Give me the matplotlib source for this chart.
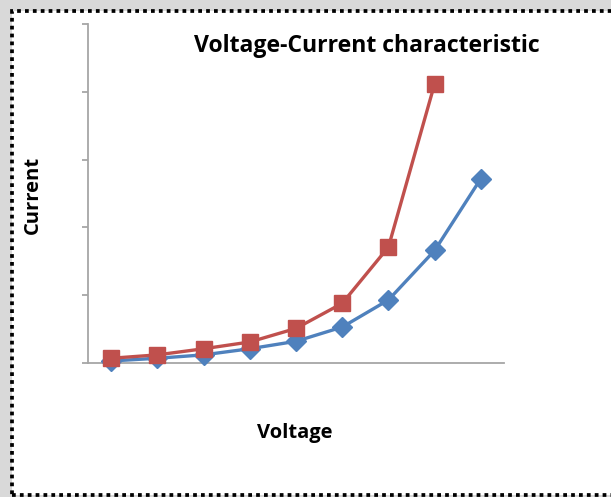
import numpy as np
import matplotlib.pyplot as plt
from matplotlib.patches import Rectangle

# Data (y in axis units, 0..5)
points = [1, 2, 3, 4, 5, 6, 7, 8, 9]
blue_current = [0.03, 0.07, 0.12, 0.21, 0.32, 0.53, 0.93, 1.66, 2.72]
red_current = [0.07, 0.12, 0.21, 0.31, 0.51, 0.88, 1.71, 4.12]

title = 'Voltage-Current characteristic'
xlabel = 'Voltage'
ylabel = 'Current'

W, H = 611, 497
fig = plt.figure(figsize=(W / 100, H / 100), dpi=100)
fig.patch.set_facecolor('#d9d9d9')

# white card with dotted border
card = Rectangle((12 / W, (H - 495) / H), (W - 12 + 10) / W, (495 - 11) / H,
                 transform=fig.transFigure, facecolor='white', edgecolor='black',
                 linewidth=2.7, linestyle=(0, (1.0, 1.1)), zorder=-5)
fig.patches.append(card)

ax = fig.add_axes([88 / W, (H - 363) / H, 416 / W, 339 / H])
ax.set_facecolor('none')
ax.set_zorder(2)

ax.plot(points, blue_current, color='#4f81bd', lw=2.4, marker='D', ms=10.5,
        clip_on=False, zorder=3)
ax.plot(points[:len(red_current)], red_current, color='#c0504d', lw=2.4,
        marker='s', ms=11.5, clip_on=False, zorder=4)

ax.set_xlim(0.5, 9.5)
ax.set_ylim(0, 5)
ax.set_yticks(range(6))
ax.set_yticklabels([])
ax.set_xticks([])
for s in ['top', 'right']:
    ax.spines[s].set_visible(False)
for s in ['left', 'bottom']:
    ax.spines[s].set_color('#a6a6a6')
    ax.spines[s].set_linewidth(1.3)
ax.tick_params(axis='y', direction='out', length=4.5, width=1.3, color='#a6a6a6')

fig.text(367 / W, (H - 52) / H, title, ha='center', va='baseline',
         fontsize=16.6, fontweight='bold', family='Open Sans')
fig.text(295 / W, (H - 433) / H, xlabel, ha='center', va='center',
         fontsize=14.5, fontweight='bold', family='Open Sans')
fig.text(33 / W, (H - 195) / H, ylabel, ha='center', va='center', rotation=90,
         fontsize=14.5, fontweight='bold', family='Open Sans')

fig.savefig('out.png', dpi=100, facecolor=fig.get_facecolor())
